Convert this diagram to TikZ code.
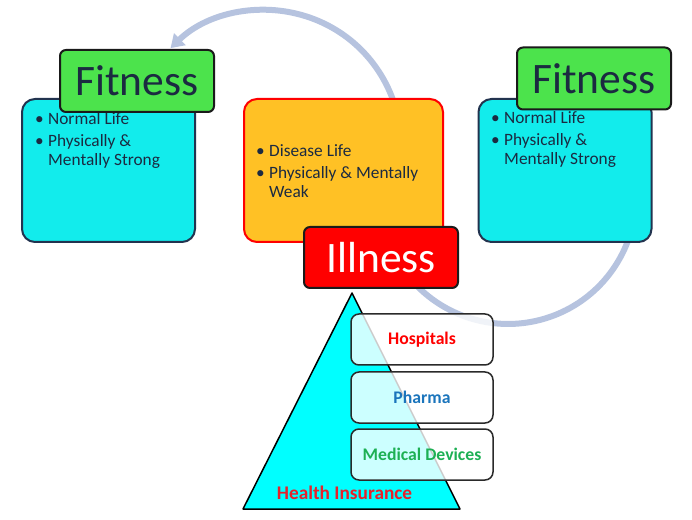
\documentclass[tikz,border=0pt]{standalone}
\usepackage{fontspec}
\setmainfont{Carlito}
\usepackage{tikz}
\usepackage{xcolor}
\usetikzlibrary{arrows.meta, shapes.geometric}
\definecolor{TextNavy}{HTML}{1B2A41}
\definecolor{StageLine}{HTML}{22334F}
\definecolor{LabelLine}{HTML}{1A1A1A}
\definecolor{FitCyan}{HTML}{12ECEC}
\definecolor{FitGreen}{HTML}{4CE34C}
\definecolor{IllRed}{HTML}{FF0000}
\definecolor{IllOrange}{HTML}{FFC125}
\definecolor{CycleBlue}{HTML}{B6C3DF}
\definecolor{PyrCyan}{HTML}{00FFFF}
\definecolor{SectorLine}{HTML}{2A2A2A}
\definecolor{PharmaBlue}{HTML}{1B75BC}
\definecolor{DevGreen}{HTML}{1DB054}
\definecolor{InsRed}{HTML}{E8202A}
\tikzset{
    % Node styles
    stagebox/.style={
        rectangle,
        rounded corners=13pt,
        draw=StageLine,
        fill=FitCyan,
        line width=2pt,
        minimum width=173pt,
        minimum height=143pt
    },
    illbox/.style={
        stagebox,
        draw=IllRed,
        fill=IllOrange,
        minimum width=199pt
    },
    fitlabel/.style={
        rectangle,
        rounded corners=6pt,
        draw=LabelLine,
        fill=FitGreen,
        line width=2pt,
        minimum width=154pt,
        minimum height=62pt,
        text=TextNavy,
        font=\fontsize{43.5}{46}\selectfont
    },
    illlabel/.style={
        fitlabel,
        fill=IllRed,
        text=white,
        minimum height=61pt
    },
    sectorbox/.style={
        rectangle,
        rounded corners=8pt,
        draw=SectorLine,
        fill=white,
        fill opacity=0.8,
        text opacity=1,
        line width=1.5pt,
        minimum width=142pt,
        minimum height=51pt,
        font=\fontsize{17.7}{20}\selectfont\bfseries
    },
    bulletlist/.style={
        anchor=base west,
        inner sep=0pt,
        text=TextNavy,
        font=\fontsize{17.3}{19}\selectfont
    },
    % Arrow and shape styles
    cyclearrow/.style={
        -{Triangle[length=13pt,width=16pt]},
        line width=6pt,
        CycleBlue
    },
    pyramid/.style={
        draw=black,
        fill=PyrCyan,
        line width=1.5pt,
        line join=round
    }
}

\begin{document}
\begin{tikzpicture}[x=1pt, y=1pt]
    \useasboundingbox (0,0) rectangle (692,519);

    % Cycle arrow (behind the boxes)
    \coordinate (cycstart) at (628.3,366.8);
    \coordinate (cycturn) at (392.8,326.5);
    \draw[cyclearrow] (cycstart) arc[start angle=20, end angle=-180, radius=128pt]
        -- (cycturn) arc[start angle=-20, end angle=134, radius=136pt];

    % Stages
    \node[stagebox] (fitleft) at (108.5,348.5) {};
    \node[illbox] (ill) at (343.5,348.5) {};
    \node[stagebox] (fitright) at (565,348.5) {};

    \node[bulletlist] (fitleftlist) at (35,394) {%
        \begin{tabular}[t]{@{}p{13pt}@{}l@{}}
            \textbullet & Normal Life\\[3pt]
            \textbullet & Physically \&\\
                        & Mentally Strong
        \end{tabular}};
    \node[bulletlist] (illlist) at (256,362) {%
        \begin{tabular}[t]{@{}p{13pt}@{}l@{}}
            \textbullet & Disease Life\\[2.5pt]
            \textbullet & Physically \& Mentally\\
                        & Weak
        \end{tabular}};
    \node[bulletlist] (fitrightlist) at (491,395) {%
        \begin{tabular}[t]{@{}p{13pt}@{}l@{}}
            \textbullet & Normal Life\\[3pt]
            \textbullet & Physically \&\\
                        & Mentally Strong
        \end{tabular}};

    % Titles
    \node[fitlabel] (fitlefttitle) at (137,438) {Fitness};
    \node[fitlabel] (fitrighttitle) at (594,440.5) {Fitness};
    \node[illlabel] (illtitle) at (381,261.5) {Illness};

    % Health insurance pyramid
    \draw[pyramid] (243,10) -- (352,226) -- (460,10) -- cycle;
    \node[sectorbox,text=IllRed] (hosp) at (422,179.5) {Hospitals};
    \node[sectorbox,text=PharmaBlue] (pharma) at (422,121.5) {Pharma};
    \node[sectorbox,text=DevGreen] (devices) at (422,64.5) {Medical Devices};
    \node[anchor=base,text=InsRed,font=\fontsize{19.3}{21}\selectfont\bfseries] (insurance) at (344.5,20) {Health Insurance};
\end{tikzpicture}
\end{document}
